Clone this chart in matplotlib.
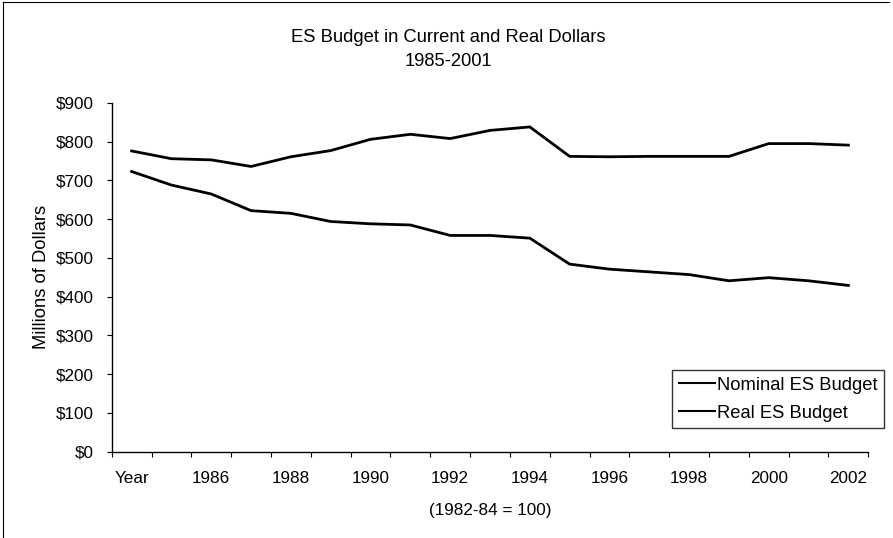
import matplotlib
matplotlib.use("Agg")
import matplotlib.pyplot as plt
import numpy as np
from matplotlib.lines import Line2D

plt.rcParams['font.family'] = ['Liberation Sans', 'DejaVu Sans']

categories = ["Year"] + [str(y) for y in range(1985, 2003)]
nominal = [776, 756, 753, 736, 761, 777, 806, 819, 808, 829, 838, 762, 761, 762, 762, 762, 795, 795, 791]
real = [723, 688, 665, 622, 615, 594, 588, 585, 558, 558, 551, 484, 471, 464, 457, 441, 449, 441, 429]
yticks = [0, 100, 200, 300, 400, 500, 600, 700, 800, 900]

W, H = 893, 538
TICK_FS = 12.3
TEXT_FS = 13.2
fig = plt.figure(figsize=(W / 100, H / 100), dpi=100)
ax = fig.add_axes([111.7 / W, 1 - 451.7 / H, (868.3 - 111.7) / W, (451.7 - 102.9) / H])

x = np.arange(len(categories))
ax.plot(x, nominal, color='black', lw=2.0, solid_joinstyle='miter', label='Nominal ES Budget')
ax.plot(x, real, color='black', lw=2.0, solid_joinstyle='miter', label='Real ES Budget')

ax.set_xlim(-0.5, len(categories) - 0.5)
ax.set_ylim(0, 900)
ax.set_yticks(yticks)
ax.set_yticklabels([f"${v}" for v in yticks], fontsize=TICK_FS)
ax.set_xticks(x[::2])
ax.set_xticklabels(categories[::2], fontsize=TICK_FS)
ax.set_xticks(np.arange(-0.5, len(categories)), minor=True)
ax.tick_params(axis='x', which='major', length=0, pad=14)
ax.tick_params(axis='x', which='minor', length=3.6, width=0.8, direction='out')
ax.tick_params(axis='y', length=3.6, width=0.8, direction='out', pad=9.5)

for s in ['top', 'right']:
    ax.spines[s].set_visible(False)
for s in ['left', 'bottom']:
    ax.spines[s].set_linewidth(1.0)

ax.set_ylabel("Millions of Dollars", fontsize=TEXT_FS, labelpad=4)
ax.set_xlabel("(1982-84 = 100)", fontsize=TICK_FS, labelpad=12)

fig.text(448 / W, 1 - 38 / H, "ES Budget in Current and Real Dollars", ha='center', va='center', fontsize=TEXT_FS)
fig.text(448 / W, 1 - 61 / H, "1985-2001", ha='center', va='center', fontsize=TEXT_FS)

leg = ax.legend(loc='lower right', bbox_to_anchor=(884 / W, 1 - 428 / H), bbox_transform=fig.transFigure,
                fontsize=TEXT_FS, frameon=True, fancybox=False, handlelength=2.0, handletextpad=0.1,
                borderpad=0.35, labelspacing=0.6, borderaxespad=0)
leg.get_frame().set_edgecolor('black')
leg.get_frame().set_linewidth(1.0)
for h in leg.get_lines():
    h.set_linewidth(1.5)

# outer chart border (left and top)
fig.add_artist(Line2D([3 / W, 3 / W], [0, 1 - 2 / H], transform=fig.transFigure, color='black', lw=0.8))
fig.add_artist(Line2D([3 / W, 889 / W], [1 - 2 / H, 1 - 2 / H], transform=fig.transFigure, color='black', lw=0.8))

fig.savefig("out.png", dpi=100)
